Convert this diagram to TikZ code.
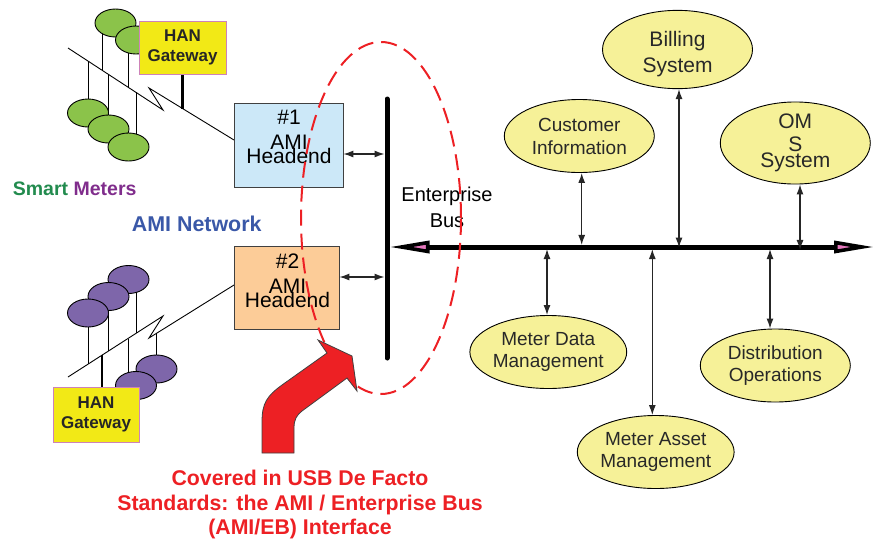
\documentclass[tikz,border=0pt]{standalone}
\usepackage{fontspec}
\setmainfont{Liberation Sans}
\usetikzlibrary{shapes.geometric,arrows.meta,backgrounds}
\definecolor{mGreen}{RGB}{139,195,74}
\definecolor{mPurple}{RGB}{126,102,170}
\definecolor{gwYellow}{RGB}{242,233,22}
\definecolor{gwBorder}{RGB}{205,130,185}
\definecolor{hBlue}{RGB}{204,232,248}
\definecolor{hPeach}{RGB}{252,204,152}
\definecolor{sysYellow}{RGB}{246,241,152}
\definecolor{aRed}{RGB}{237,32,36}
\definecolor{tGreen}{RGB}{34,139,78}
\definecolor{tPurple}{RGB}{128,45,140}
\definecolor{tBlue}{RGB}{58,88,168}
\definecolor{txt}{RGB}{40,40,40}
\definecolor{tipPink}{RGB}{230,120,190}
\begin{document}
\begin{tikzpicture}[x=1pt,y=-1pt,
  meterG/.style={ellipse,draw=black,line width=0.9pt,fill=mGreen,minimum width=41pt,minimum height=28pt,inner sep=0pt},
  meterP/.style={meterG,fill=mPurple},
  wire/.style={draw=black,line width=0.9pt},
  stem/.style={draw=black,line width=2.4pt},
  gateway/.style={draw=gwBorder,fill=gwYellow,line width=0.8pt,inner sep=0pt,align=center,font=\fontsize{17}{20.5}\selectfont\bfseries,text=black!85},
  headbox/.style={draw=black!75,line width=0.8pt,inner sep=0pt},
  headtxt/.style={inner sep=0pt,align=center,anchor=north,font=\fontsize{21}{25}\selectfont},
  sys/.style={ellipse,draw=black,line width=0.9pt,fill=sysYellow,minimum width=150pt,minimum height=73pt,inner sep=0pt,align=center,text=txt},
  link/.style={{Latex[length=10pt,width=7pt]}-{Latex[length=10pt,width=7pt]},line width=1.2pt,draw=black!85},
  bus/.style={line width=5pt,draw=black}
]
\useasboundingbox (0,0) rectangle (875,539);

% ---------- top-left: smart meters (green) ----------
\node[meterG] (g1) at (115.5,23) {};
\node[meterG] (g2) at (136,40) {};
\node[meterG] (g3) at (88,113) {};
\node[meterG] (g4) at (108.5,129) {};
\node[meterG] (g5) at (128.5,147) {};
\node[gateway,minimum width=87pt,minimum height=53pt] (gw1) at (182.5,47.5) {HAN\\Gateway};

\coordinate (ta) at (68,48);
\coordinate (tb) at (163,110);
\coordinate (tc) at (149,88);
\coordinate (td) at (234,140);

% ---------- bottom-left: smart meters (purple) ----------
\node[meterP] (p5) at (156.5,369) {};
\node[meterP] (p4) at (136,385.5) {};
\node[meterP] (p3) at (128.5,279.5) {};
\node[meterP] (p2) at (108.5,296.5) {};
\node[meterP] (p1) at (88,313) {};
\node[gateway,minimum width=86pt,minimum height=55pt] (gw2) at (96,414.5) {HAN\\Gateway};

\coordinate (ba) at (68,377);
\coordinate (bb) at (163,316);
\coordinate (bc) at (149,338);
\coordinate (bd) at (234,285);

\begin{scope}[on background layer]
  \draw[wire] (ta) -- (tb) -- (tc) -- (td);
  \draw[wire] ([xshift=-13.5pt]g1.center) -- ++(0,47.2);
  \draw[wire] ([xshift=-8pt]g2.center) -- ++(0,47.2);
  \draw[wire] (g3.center) -- ++(0,-52);
  \draw[wire] (g4.center) -- ++(0,-54.6);
  \draw[wire] ([xshift=7.5pt]g5.center) -- ++(0,-54.6);
  \draw[stem] (gw1.south) -- ++(0,35);

  \draw[wire] (ba) -- (bb) -- (bc) -- (bd);
  \draw[wire] (p1.center) -- ++(0,51.2);
  \draw[wire] (p2.center) -- ++(0,54.5);
  \draw[wire] ([xshift=7.5pt]p3.center) -- ++(0,53.8);
  \draw[wire] ([xshift=-8pt]p4.center) -- ++(0,-47);
  \draw[wire] (p5.center) -- ++(0,-35.6);
  \draw[stem] ([xshift=6pt]gw2.north) -- ++(0,-32);
\end{scope}

\node[anchor=base west,inner sep=0pt,font=\fontsize{19.5}{22}\selectfont\bfseries] (sm) at (12.7,195) {\textcolor{tGreen}{Smart} \textcolor{tPurple}{Meters}};
\node[anchor=base west,inner sep=0pt,text=tBlue,font=\fontsize{21.4}{24}\selectfont\bfseries] (an) at (131.7,231) {AMI Network};

% ---------- headends ----------
\node[headbox,fill=hBlue,minimum width=109pt,minimum height=84pt] (h1) at (288.5,145) {};
\node[headtxt] (h1t) at ([xshift=0.5pt,yshift=-7.7pt]h1.north) {\#1\\AMI\\[-11.4pt]Headend};
\node[headbox,fill=hPeach,minimum width=105pt,minimum height=83pt] (h2) at (286.5,287.5) {};
\node[headtxt] (h2t) at ([xshift=1pt,yshift=-8pt]h2.north) {\#2\\AMI\\[-11pt]Headend};

% ---------- enterprise bus ----------
\coordinate (vt) at (387,99);
\coordinate (vb) at (387,358);
\draw[bus,line cap=round] (vt) -- (vb);
\coordinate (hl) at (389.5,247);
\coordinate (hr) at (874,247);
\draw[bus,{Triangle[length=40pt,width=12pt,fill=tipPink,line width=3.6pt]}-{Triangle[length=40pt,width=12pt,fill=tipPink,line width=3.6pt]}] (hl) -- (hr);

\coordinate (b1) at (384.5,154);
\coordinate (b2) at (384.5,277);
\draw[link] ([yshift=-9pt]h1.east) -- (b1);
\draw[link] ([yshift=10.5pt]h2.east) -- (b2);

\node[inner sep=0pt,anchor=north,align=center,font=\fontsize{20}{26}\selectfont] (ebl) at (447,187.3) {Enterprise\\Bus};

% ---------- dashed zone and red arrow ----------
\node[ellipse,draw=aRed,dash pattern=on 16pt off 8pt,line width=2pt,minimum width=160pt,minimum height=352pt,inner sep=0pt] (zone) at (381,218) {};

\filldraw[fill=aRed,draw=black!75,line width=0.8pt,line join=miter]
  (262,453) -- (262,422) .. controls (262,403) and (267,396) .. (282,385)
  -- (327,353) -- (318,340) -- (352,356) -- (357,391) -- (347,378)
  -- (302,411) .. controls (297,415) and (294,419) .. (294,428)
  -- (294,453) -- cycle;

\node[inner sep=0pt,anchor=north,align=center,text=aRed,font=\fontsize{21.3}{24.5}\selectfont\bfseries] (cov) at (300,470) {Covered in USB De Facto\\Standards: the AMI / Enterprise Bus\\(AMI/EB) Interface};

% ---------- enterprise systems ----------
\node[sys,font=\fontsize{21}{26}\selectfont] (bill) at (677.5,49.5) {\rule{0pt}{25pt}Billing\\System};
\node[sys,font=\fontsize{19}{23}\selectfont] (cust) at (579.3,136) {Customer\\Information};
\node[sys,font=\fontsize{21}{23}\selectfont] (oms) at (795.3,143) {OM\\S\\[-7pt]System};
\node[sys,font=\fontsize{19}{22.7}\selectfont] (mdm) at (548.3,352) {Meter Data\\Management};
\node[sys,font=\fontsize{19}{22.7}\selectfont] (dist) at (775.3,365.5) {Distribution\\Operations};
\node[sys,font=\fontsize{19}{22.7}\selectfont] (mam) at (655.7,452) {Meter Asset\\Management};

\draw[link] ([xshift=2.4pt]cust.south) -- ++(0,72);
\draw[link] ([xshift=1.5pt]bill.south) -- ++(0,158.5);
\draw[link] ([xshift=4.7pt]oms.south) -- ++(0,65.5);
\draw[link] ([xshift=-1.3pt]mdm.north) -- ++(0,-66);
\draw[link] ([xshift=-3.4pt]mam.north) -- ++(0,-166);
\draw[link] ([xshift=-5.3pt]dist.north) -- ++(0,-79.5);
\end{tikzpicture}
\end{document}
